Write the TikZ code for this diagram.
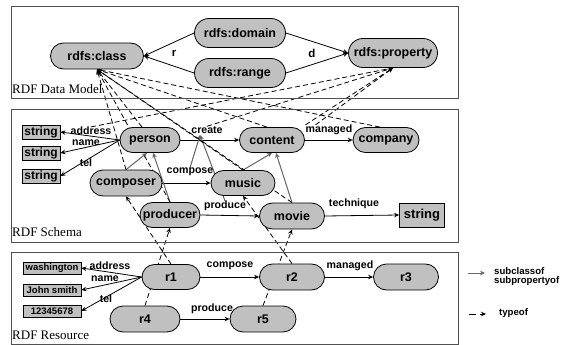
\documentclass[tikz,border=0pt]{standalone}
\usepackage{fontspec}
\setmainfont{Liberation Serif}
\setsansfont{Liberation Sans}
\usetikzlibrary{arrows.meta,shapes.misc}
\pgfdeclarelayer{bg}
\pgfsetlayers{bg,main}
\definecolor{nodegray}{HTML}{C0C0C0}
\definecolor{subgray}{HTML}{666666}
\definecolor{panelgray}{HTML}{505050}
\begin{document}
\begin{tikzpicture}[x=1pt,y=-1pt,
  ent/.style={rounded rectangle, draw=black, line width=0.8pt, fill=nodegray, inner sep=0pt,
    minimum height=26pt, font=\sffamily\bfseries\fontsize{12.5}{14}\selectfont},
  strbox/.style={rectangle, draw=black, line width=0.8pt, fill=nodegray, inner sep=0pt,
    font=\sffamily\bfseries\fontsize{12}{14}\selectfont},
  valbox/.style={rectangle, draw=black, line width=0.8pt, fill=nodegray, inner sep=0pt,
    minimum width=58pt, minimum height=12pt, font=\sffamily\bfseries\fontsize{9.5}{11}\selectfont},
  lbl/.style={inner sep=0pt, font=\sffamily\bfseries\fontsize{10.6}{12}\selectfont},
  rlbl/.style={inner sep=0pt, font=\sffamily\bfseries\fontsize{11.5}{13}\selectfont},
  leg/.style={inner sep=0pt, anchor=west, align=left, font=\sffamily\bfseries\fontsize{9.6}{9.5}\selectfont},
  panel/.style={draw=panelgray, line width=1pt},
  plbl/.style={inner sep=0pt, anchor=base west, font=\fontsize{13}{15}\selectfont},
  rel/.style={-{Stealth[length=5pt,width=4.5pt]}, line width=0.8pt},
  sub/.style={rel, line width=1pt, draw=subgray, fill=subgray},
  typ/.style={rel, dash pattern=on 5pt off 3pt}
]
\useasboundingbox (0,0) rectangle (568,345);

% panels
\draw[panel] (11,7) rectangle (458,99);
\draw[panel] (11,109) rectangle (458,242);
\draw[panel] (11,252) rectangle (458,344);
\node[plbl] (pl1) at (12,93) {RDF Data Model};
\node[plbl] (pl2) at (12,236) {RDF Schema};
\node[plbl] (pl3) at (12,339) {RDF Resource};

% data model
\node[ent, minimum width=93pt] (cls) at (97,56) {rdfs:class};
\node[ent, minimum width=91pt, minimum height=29pt] (dom) at (240,33) {rdfs:domain};
\node[ent, minimum width=91pt, minimum height=29pt] (rng) at (240,73) {rdfs:range};
\node[ent, minimum width=89pt, minimum height=29pt] (prop) at (393,53) {rdfs:property};
\node[rlbl] (lr) at (174,53) {r};
\node[rlbl] (ld) at (312,53) {d};

% schema
\node[strbox, minimum width=38pt, minimum height=14pt] (s1) at (41,132) {string};
\node[strbox, minimum width=38pt, minimum height=14pt] (s2) at (41,153) {string};
\node[strbox, minimum width=38pt, minimum height=14pt] (s3) at (41,176) {string};
\node[ent, minimum width=60pt, minimum height=25pt] (person) at (150,140) {person};
\node[ent, minimum width=72pt] (composer) at (126,183) {composer};
\node[ent, minimum width=60pt, minimum height=25pt] (producer) at (170,215) {producer};
\node[ent, minimum width=65pt, minimum height=25pt] (content) at (272,140) {content};
\node[ent, minimum width=66pt, minimum height=25pt] (company) at (386,140) {company};
\node[ent, minimum width=64pt, minimum height=25pt] (music) at (243,183) {music};
\node[ent, minimum width=65pt] (movie) at (292,216) {movie};
\node[strbox, minimum width=45pt, minimum height=24pt, font=\sffamily\bfseries\fontsize{13}{15}\selectfont] (s4) at (422,215) {string};

\node[lbl] (laddr) at (91,131) {address};
\node[lbl] (lname) at (86,143) {name};
\node[lbl] (ltel) at (86,163) {tel};
\node[lbl] (lcreate) at (207,130) {create};
\node[lbl] (lmanaged) at (329,130) {managed};
\node[lbl] (lcompose) at (190,172) {compose};
\node[lbl] (lproduce) at (225,206) {produce};
\node[lbl] (ltech) at (354,204) {technique};
\coordinate (ctip) at (200,135);

% resource
\node[valbox] (v1) at (52,268) {washington};
\node[valbox] (v2) at (52,290) {John smith};
\node[valbox] (v3) at (52,311) {12345678};
\node[ent, minimum width=58pt, minimum height=25pt] (r1) at (171,277) {r1};
\node[ent, minimum width=70pt] (r4) at (145,319) {r4};
\node[ent, minimum width=65pt] (r2) at (292,277) {r2};
\node[ent, minimum width=66pt] (r5) at (263,319) {r5};
\node[ent, minimum width=65pt] (r3) at (406,277) {r3};
\node[lbl] (raddr) at (110,266) {address};
\node[lbl] (rname) at (105,279) {name};
\node[lbl] (rtel) at (106,299) {tel};
\node[lbl] (rcompose) at (230,266) {compose};
\node[lbl] (rmanaged) at (350,266) {managed};
\node[lbl] (rproduce) at (212,309) {produce};

% legend
\coordinate (la1) at (468,273);
\coordinate (la2) at (485,273);
\coordinate (lb1) at (469,314);
\coordinate (lb2) at (486,314);
\node[leg] (legsub) at (494,276.5) {subclassof\\subpropertyof};
\node[leg] (legtyp) at (499,313) {typeof};

\begin{pgfonlayer}{bg}
% data model relations
\draw[rel] (dom.west) -- (cls.east);
\draw[rel] (rng.west) -- (cls.east);
\draw[rel] (dom.east) -- (prop.west);
\draw[rel] (rng.east) -- (prop.west);

% schema relations
\draw[rel] (person.west) -- (s1.east);
\draw[rel] (person.west) -- (s2.east);
\draw[rel] (person.west) -- (s3.east);
\draw[rel] (person.east) -- (content.west);
\draw[rel] (content.east) -- (company.west);
\draw[rel] (composer.east) -- (music.west);
\draw[rel] (producer.east) -- (movie.west);
\draw[rel] (movie.east) -- (s4.west);

% subclass / subproperty
\draw[sub] (composer.north) -- ([xshift=-3pt]person.south);
\draw[sub] (producer.north) -- ([xshift=3pt]person.south);
\draw[sub] (music.north) -- (content.south);
\draw[sub] (movie.north) -- ([xshift=4pt]content.south);
\draw[sub] (lcompose.north) -- (ctip);
\draw[sub] (lproduce.north) -- (ctip);

% typeof class
\draw[typ] (composer.north) -- (cls.south);
\draw[typ] ([xshift=-8pt]person.north) -- (cls.south);
\draw[typ] (producer.north) -- (cls.south);
\draw[typ] ([xshift=-5pt]content.north) -- (cls.south);
\draw[typ] (music.north) -- (cls.south);
\draw[typ] (movie.north) -- (cls.south);
\draw[typ] ([xshift=-6pt]company.north) -- (cls.south);

% typeof property
\draw[typ] (laddr.north) -- (prop.south);
\draw[typ] (lcreate.north) -- (prop.south);
\draw[typ] (lmanaged.north west) -- (prop.south);
\draw[typ] ([xshift=10pt]lmanaged.north west) -- (prop.south);

% resource relations
\draw[rel] (r1.west) -- (v1.east);
\draw[rel] (r1.west) -- (v2.east);
\draw[rel] (r1.west) -- (v3.east);
\draw[rel] (r1.east) -- (r2.west);
\draw[rel] (r2.east) -- (r3.west);
\draw[rel] (r4.east) -- (r5.west);

% typeof resource -> schema
\draw[typ] (r1.north) -- (composer.south);
\draw[typ] (r4.north) -- (producer.south);
\draw[typ] (r2.north) -- (music.south);
\draw[typ] (r5.north) -- (movie.south);

% legend
\draw[sub] (la1) -- (la2);
\draw[rel, dash pattern=on 7pt off 4pt] (lb1) -- (lb2);
\end{pgfonlayer}
\end{tikzpicture}
\end{document}
